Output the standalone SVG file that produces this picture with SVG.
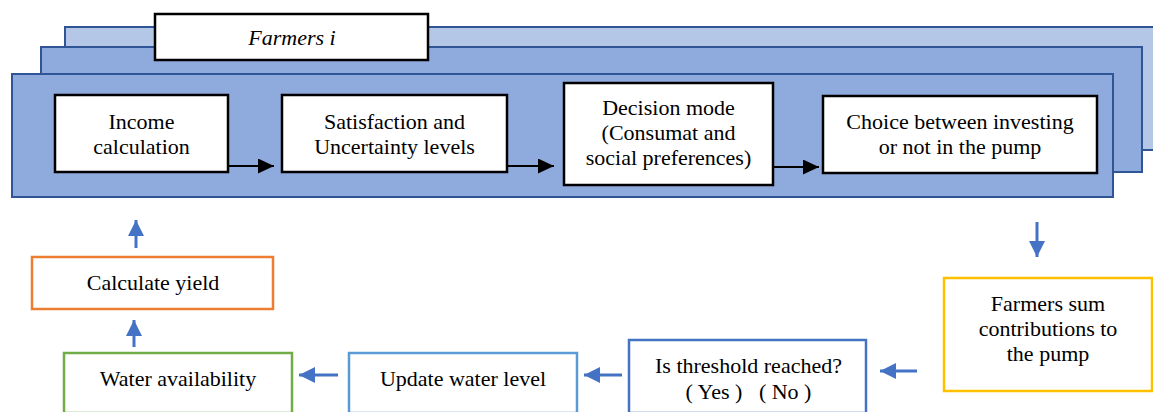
<svg xmlns="http://www.w3.org/2000/svg" width="1153" height="412" viewBox="0 0 1153 412">
  <style>
    .label { font-family: "Liberation Serif", "Times New Roman", Times, serif; font-size: 22px; fill: #000; text-anchor: middle; }
    .layer { stroke: #2F5597; stroke-width: 2; }
    .step { fill: #fff; stroke: #000; stroke-width: 2.5; }
    .box { fill: #fff; stroke-width: 2.5; }
    .flow { stroke: #000; stroke-width: 2; fill: none; marker-end: url(#blackHead); }
    .loop { stroke: #4472C4; stroke-width: 3; fill: none; marker-end: url(#blueHead); }
  </style>
  <defs>
    <marker id="blackHead" viewBox="0 0 10 10" refX="10" refY="5" markerWidth="16" markerHeight="15" markerUnits="userSpaceOnUse" orient="auto" preserveAspectRatio="none">
      <path d="M0,0 L10,5 L0,10 Z" fill="#000"/>
    </marker>
    <marker id="blueHead" viewBox="0 0 10 10" refX="10" refY="5" markerWidth="16" markerHeight="16" markerUnits="userSpaceOnUse" orient="auto" preserveAspectRatio="none">
      <path d="M0,0 L10,5 L0,10 Z" fill="#4472C4"/>
    </marker>
  </defs>

  <!-- stacked farmer layers -->
  <g id="farmers-stack">
    <rect class="layer" x="65" y="27" width="1100" height="123" fill="#B4C7E7"/>
    <rect class="layer" x="41" y="47" width="1101" height="125" fill="#8FAADC"/>
    <rect class="layer" x="12" y="74" width="1101" height="123" fill="#8FAADC"/>
  </g>

  <g id="farmers-title">
    <rect class="step" x="155" y="14" width="273" height="46"/>
    <text class="label" x="292" y="45" font-style="italic">Farmers i</text>
  </g>

  <g id="income">
    <rect class="step" x="55" y="95" width="173" height="77"/>
    <text class="label" x="141.5" y="129">Income</text>
    <text class="label" x="141.5" y="154">calculation</text>
  </g>

  <g id="satisfaction">
    <rect class="step" x="282" y="95" width="225" height="77"/>
    <text class="label" x="394.5" y="129">Satisfaction and</text>
    <text class="label" x="394.5" y="154">Uncertainty levels</text>
  </g>

  <g id="decision">
    <rect class="step" x="564" y="83" width="209" height="102"/>
    <text class="label" x="668.5" y="115">Decision mode</text>
    <text class="label" x="668.5" y="140">(Consumat and</text>
    <text class="label" x="668.5" y="165">social preferences)</text>
  </g>

  <g id="choice">
    <rect class="step" x="823" y="96" width="274" height="77"/>
    <text class="label" x="960" y="129">Choice between investing</text>
    <text class="label" x="960" y="154">or not in the pump</text>
  </g>

  <g id="calculate-yield">
    <rect class="box" x="32" y="257" width="241" height="52" stroke="#ED7D31"/>
    <text class="label" x="153" y="290">Calculate yield</text>
  </g>

  <g id="water-availability">
    <rect class="box" x="64" y="353" width="228" height="60" stroke="#70AD47"/>
    <text class="label" x="178" y="386">Water availability</text>
  </g>

  <g id="update-water">
    <rect class="box" x="349" y="353" width="228" height="60" stroke="#5B9BD5"/>
    <text class="label" x="463" y="386">Update water level</text>
  </g>

  <g id="threshold">
    <rect class="box" x="629" y="340" width="237" height="73" stroke="#4472C4"/>
    <text class="label" x="748.5" y="373">Is threshold reached?</text>
    <text class="label" x="748.5" y="399" xml:space="preserve">( Yes )   ( No )</text>
  </g>

  <g id="sum-contributions">
    <rect class="box" x="944" y="278" width="208" height="113" stroke="#FFC000"/>
    <text class="label" x="1048" y="311">Farmers sum</text>
    <text class="label" x="1048" y="336">contributions to</text>
    <text class="label" x="1048" y="361">the pump</text>
  </g>

  <!-- connectors -->
  <g id="connectors">
    <line class="flow" x1="228" y1="166" x2="274" y2="166"/>
    <line class="flow" x1="507" y1="166" x2="554" y2="166"/>
    <line class="flow" x1="773" y1="167" x2="819" y2="167"/>
    <line class="loop" x1="1037" y1="222" x2="1037" y2="257"/>
    <line class="loop" x1="917" y1="371" x2="880" y2="371"/>
    <line class="loop" x1="622" y1="375" x2="584" y2="375"/>
    <line class="loop" x1="338" y1="375" x2="299" y2="375"/>
    <line class="loop" x1="134" y1="347" x2="134" y2="320"/>
    <line class="loop" x1="136" y1="248" x2="136" y2="220"/>
  </g>
</svg>
